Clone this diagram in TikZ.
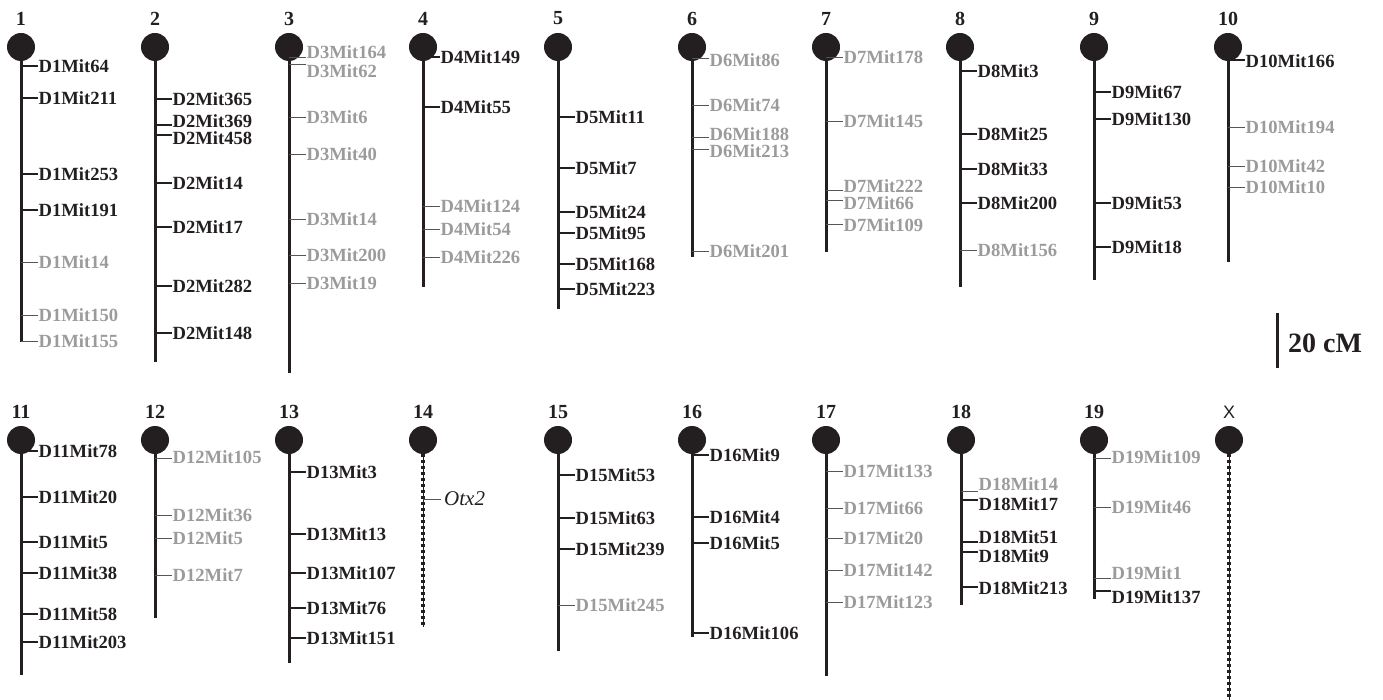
\documentclass[tikz,border=0pt]{standalone}
\usepackage{fontspec}
\setmainfont{Liberation Serif}
\setsansfont{Liberation Sans}
\begin{document}
\definecolor{ink}{HTML}{231F20}
\definecolor{gry}{HTML}{9B9B9B}
\definecolor{tickg}{HTML}{555555}
\tikzset{
  cen/.style={circle,fill=ink,draw=none,minimum size=28pt,inner sep=0pt},
  num/.style={font=\fontsize{20}{22}\selectfont\bfseries,text=ink,inner sep=0pt},
  chrline/.style={draw=ink,line width=3pt},
  lab/.style={anchor=west,inner sep=0pt,font=\fontsize{18.6}{20}\selectfont\bfseries},
  labB/.style={lab,text=ink},
  labG/.style={lab,text=gry},
  tickB/.style={draw=ink,line width=1.6pt},
  tickG/.style={draw=tickg,line width=0.9pt},
  dotline/.style={draw=ink,line width=1pt},
  dotmarks/.style={draw=ink,line width=3.8pt,dash pattern=on 2.6pt off 3.4pt},
}
\newcommand\chrom[5]{%
  \coordinate (b#1) at (#2,#4);
  \draw[chrline] (#2,#3) -- (b#1);
  \node[cen] (c#1) at (#2,#3) {};
  \node[num] (n#1) at (#2,#3-28.5) {#5};
}
\newcommand\mk[6]{%
  \coordinate (#1a) at (#2,#3);
  \coordinate (#1b) at (#2+17,#3);
  \draw[tick#5] (#1a) -- (#1b);
  \node[lab#5] (#1) at (#2+17.5,#4) {#6};
}
\begin{tikzpicture}[x=1pt,y=-1pt]
\useasboundingbox (0,0) rectangle (1383,700);
% ---------- top row ----------
\chrom{1}{21}{47}{342}{1}
\mk{a1}{21}{66}{66}{B}{D1Mit64}
\mk{a2}{21}{98}{98}{B}{D1Mit211}
\mk{a3}{21}{174}{174}{B}{D1Mit253}
\mk{a4}{21}{210}{210}{B}{D1Mit191}
\mk{a5}{21}{262}{262}{G}{D1Mit14}
\mk{a6}{21}{315}{315}{G}{D1Mit150}
\mk{a7}{21}{341}{341}{G}{D1Mit155}

\chrom{2}{155}{47}{362}{2}
\mk{b1}{155}{99}{99}{B}{D2Mit365}
\mk{b2}{155}{125}{121}{B}{D2Mit369}
\mk{b3}{155}{135}{138}{B}{D2Mit458}
\mk{b4}{155}{183}{183}{B}{D2Mit14}
\mk{b5}{155}{227}{227}{B}{D2Mit17}
\mk{b6}{155}{286}{286}{B}{D2Mit282}
\mk{b7}{155}{333}{333}{B}{D2Mit148}

\chrom{3}{289}{47}{373}{3}
\mk{c1}{289}{57}{52}{G}{D3Mit164}
\mk{c2}{289}{64}{71}{G}{D3Mit62}
\mk{c3}{289}{117}{117}{G}{D3Mit6}
\mk{c4}{289}{154}{154}{G}{D3Mit40}
\mk{c5}{289}{219}{219}{G}{D3Mit14}
\mk{c6}{289}{255}{255}{G}{D3Mit200}
\mk{c7}{289}{283}{283}{G}{D3Mit19}

\chrom{4}{423}{47}{287}{4}
\mk{d1}{423}{57}{57}{B}{D4Mit149}
\mk{d2}{423}{107}{107}{B}{D4Mit55}
\mk{d3}{423}{206}{206}{G}{D4Mit124}
\mk{d4}{423}{229}{229}{G}{D4Mit54}
\mk{d5}{423}{257}{257}{G}{D4Mit226}

\chrom{5}{558}{47}{309}{5}
\mk{e1}{558}{117}{117}{B}{D5Mit11}
\mk{e2}{558}{168}{168}{B}{D5Mit7}
\mk{e3}{558}{212}{212}{B}{D5Mit24}
\mk{e4}{558}{233}{233}{B}{D5Mit95}
\mk{e5}{558}{264}{264}{B}{D5Mit168}
\mk{e6}{558}{289}{289}{B}{D5Mit223}

\chrom{6}{692}{47}{257}{6}
\mk{f1}{692}{58}{60}{G}{D6Mit86}
\mk{f2}{692}{105}{105}{G}{D6Mit74}
\mk{f3}{692}{137}{134}{G}{D6Mit188}
\mk{f4}{692}{149}{151}{G}{D6Mit213}
\mk{f5}{692}{251}{251}{G}{D6Mit201}

\chrom{7}{826}{47}{252}{7}
\mk{g1}{826}{57}{57}{G}{D7Mit178}
\mk{g2}{826}{121}{121}{G}{D7Mit145}
\mk{g3}{826}{190}{186}{G}{D7Mit222}
\mk{g4}{826}{200}{203}{G}{D7Mit66}
\mk{g5}{826}{224}{225}{G}{D7Mit109}

\chrom{8}{960}{47}{287}{8}
\mk{h1}{960}{71}{71}{B}{D8Mit3}
\mk{h2}{960}{134}{134}{B}{D8Mit25}
\mk{h3}{960}{169}{169}{B}{D8Mit33}
\mk{h4}{960}{203}{203}{B}{D8Mit200}
\mk{h5}{960}{250}{250}{G}{D8Mit156}

\chrom{9}{1094}{47}{280}{9}
\mk{i1}{1094}{92}{92}{B}{D9Mit67}
\mk{i2}{1094}{119}{119}{B}{D9Mit130}
\mk{i3}{1094}{203}{203}{B}{D9Mit53}
\mk{i4}{1094}{247}{247}{B}{D9Mit18}

\chrom{10}{1228}{47}{262}{10}
\mk{j1}{1228}{60}{61}{B}{D10Mit166}
\mk{j2}{1228}{127}{127}{G}{D10Mit194}
\mk{j3}{1228}{166}{166}{G}{D10Mit42}
\mk{j4}{1228}{187}{187}{G}{D10Mit10}

% scale bar
\coordinate (s1) at (1277,313);
\coordinate (s2) at (1277,368);
\draw[chrline] (s1) -- (s2);
\node[anchor=west,inner sep=0pt,text=ink,font=\fontsize{28}{30}\selectfont\bfseries] (scale) at (1288,343) {20 cM};

% ---------- bottom row ----------
\chrom{11}{21}{440}{675}{11}
\mk{k1}{21}{451}{451}{B}{D11Mit78}
\mk{k2}{21}{497}{497}{B}{D11Mit20}
\mk{k3}{21}{542}{542}{B}{D11Mit5}
\mk{k4}{21}{573}{573}{B}{D11Mit38}
\mk{k5}{21}{614}{614}{B}{D11Mit58}
\mk{k6}{21}{642}{642}{B}{D11Mit203}

\chrom{12}{155}{440}{618}{12}
\mk{l1}{155}{458}{457}{G}{D12Mit105}
\mk{l2}{155}{515}{515}{G}{D12Mit36}
\mk{l3}{155}{538}{538}{G}{D12Mit5}
\mk{l4}{155}{575}{575}{G}{D12Mit7}

\chrom{13}{289}{440}{663}{13}
\mk{m1}{289}{472}{472}{B}{D13Mit3}
\mk{m2}{289}{534}{534}{B}{D13Mit13}
\mk{m3}{289}{573}{573}{B}{D13Mit107}
\mk{m4}{289}{608}{608}{B}{D13Mit76}
\mk{m5}{289}{638}{638}{B}{D13Mit151}

% chromosome 14 (dotted)
\coordinate (b14) at (423,627);
\node[cen] (c14) at (423,440) {};
\node[num] (n14) at (423,411.5) {14};
\draw[dotline] (c14.south) -- (b14);
\draw[dotmarks] (c14.south) -- (b14);
\coordinate (o1a) at (423,499);
\coordinate (o1b) at (441,499);
\draw[tickG] (o1a) -- (o1b);
\node[anchor=west,inner sep=0pt,text=ink,font=\fontsize{21}{23}\selectfont\itshape] (o1) at (444,499) {Otx2};

\chrom{15}{558}{440}{651}{15}
\mk{p1}{558}{475}{475}{B}{D15Mit53}
\mk{p2}{558}{518}{518}{B}{D15Mit63}
\mk{p3}{558}{549}{549}{B}{D15Mit239}
\mk{p4}{558}{605}{605}{G}{D15Mit245}

\chrom{16}{692}{440}{637}{16}
\mk{q1}{692}{455}{455}{B}{D16Mit9}
\mk{q2}{692}{517}{517}{B}{D16Mit4}
\mk{q3}{692}{543}{543}{B}{D16Mit5}
\mk{q4}{692}{633}{633}{B}{D16Mit106}

\chrom{17}{826}{440}{676}{17}
\mk{r1}{826}{471}{471}{G}{D17Mit133}
\mk{r2}{826}{508}{508}{G}{D17Mit66}
\mk{r3}{826}{538}{538}{G}{D17Mit20}
\mk{r4}{826}{570}{570}{G}{D17Mit142}
\mk{r5}{826}{602}{602}{G}{D17Mit123}

\chrom{18}{961}{440}{605}{18}
\mk{t1}{961}{491}{484}{G}{D18Mit14}
\mk{t2}{961}{500}{504}{B}{D18Mit17}
\mk{t3}{961}{542}{537}{B}{D18Mit51}
\mk{t4}{961}{552}{556}{B}{D18Mit9}
\mk{t5}{961}{587}{588}{B}{D18Mit213}

\chrom{19}{1094}{440}{599}{19}
\mk{u1}{1094}{458}{457}{G}{D19Mit109}
\mk{u2}{1094}{507}{507}{G}{D19Mit46}
\mk{u3}{1094}{578}{573}{G}{D19Mit1}
\mk{u4}{1094}{591}{597}{B}{D19Mit137}

% chromosome X (dotted)
\coordinate (bX) at (1229,700);
\node[cen] (cX) at (1229,440) {};
\node[font=\fontsize{18}{20}\selectfont\sffamily,text=ink,inner sep=0pt] (nX) at (1229,412) {X};
\draw[dotline] (cX.south) -- (bX);
\draw[dotmarks] (cX.south) -- (bX);
\end{tikzpicture}
\end{document}
